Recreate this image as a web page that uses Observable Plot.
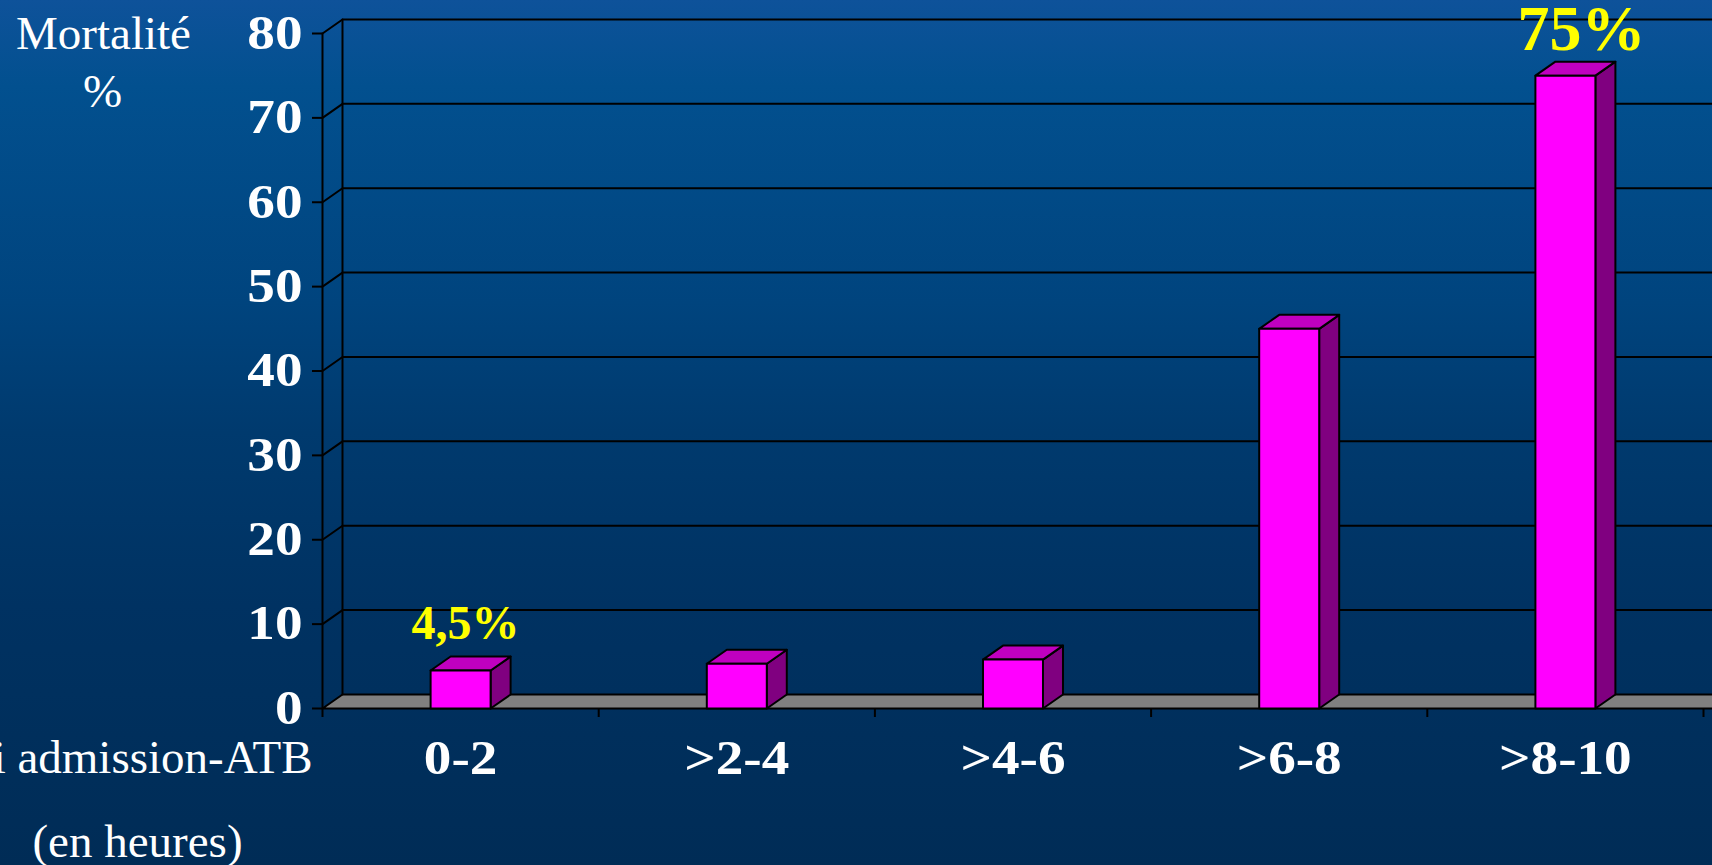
<!DOCTYPE html>
<html>
<head>
<meta charset="utf-8">
<script src="https://cdn.jsdelivr.net/npm/d3@7"></script>
<script src="https://cdn.jsdelivr.net/npm/@observablehq/plot@0.6"></script>
<style>
  html, body { margin: 0; padding: 0; overflow: hidden; }
  body {
    width: 1712px; height: 865px;
    background: linear-gradient(to bottom, #0e529a 0%, #02508f 10%, #00447e 35%, #003a6e 50%, #003262 70%, #002c56 100%);
  }
  #chart svg { display: block; }
</style>
</head>
<body>
<div id="chart"></div>
<script>
// ---- data ----
const categories = ["0-2", ">2-4", ">4-6", ">6-8", ">8-10"];
const mortality = [4.5, 5.3, 5.8, 45, 75];
const yTicks = [0, 10, 20, 30, 40, 50, 60, 70, 80];
const yTitle = ["Mortalité", "%"];
const xTitle = ["Délai admission-ATB", "(en heures)"];
const labelText = ["4,5%", "75%"];
const labelIndex = [0, 4];

// ---- 3D depth (styling constants, in scale units) ----
const DX = 0.0724;   // depth toward the right
const DY = 1.66;     // depth upward
const HW = 0.1086;   // half bar width

const n = categories.length;

// bar faces
const frontFaces = [], topFaces = [], sideFaces = [];
mortality.forEach((v, i) => {
  const xl = i + 0.5 - HW, xr = i + 0.5 + HW;
  frontFaces.push({b: i, x: xl, y: 0}, {b: i, x: xr, y: 0}, {b: i, x: xr, y: v}, {b: i, x: xl, y: v});
  topFaces.push({b: i, x: xl, y: v}, {b: i, x: xr, y: v}, {b: i, x: xr + DX, y: v + DY}, {b: i, x: xl + DX, y: v + DY});
  sideFaces.push({b: i, x: xr, y: 0}, {b: i, x: xr + DX, y: DY}, {b: i, x: xr + DX, y: v + DY}, {b: i, x: xr, y: v});
});

// gridlines: side wall diagonal + back wall horizontal
const grid = [];
yTicks.filter(t => t > 0).forEach(t => {
  grid.push({t, x: 0, y: t}, {t, x: DX, y: t + DY}, {t, x: n + DX + 0.2, y: t + DY});
});
const floorPoly = [
  {x: 0, y: 0}, {x: n + 0.2, y: 0}, {x: n + 0.2 + DX, y: DY}, {x: DX, y: DY}
];
const walls = [
  {w: 0, x: 0, y: 0}, {w: 0, x: 0, y: 80},
  {w: 1, x: DX, y: DY}, {w: 1, x: DX, y: 80 + DY}
];

const serif = "'Liberation Serif', 'Times New Roman', serif";

const chart = Plot.plot({
  width: 1712,
  height: 865,
  marginLeft: 322,
  marginRight: 9,
  marginTop: 33,
  marginBottom: 157,
  x: {domain: [0, n]},
  y: {domain: [0, 80]},
  style: {background: "transparent", fontFamily: serif, color: "white"},
  marks: [
    Plot.line(grid, {x: "x", y: "y", z: "t", stroke: "black", strokeWidth: 2}),
    Plot.line(floorPoly, {x: "x", y: "y", curve: "linear-closed", fill: "#808080", stroke: "black", strokeWidth: 2}),
    Plot.line(walls, {x: "x", y: "y", z: "w", stroke: "black", strokeWidth: 2}),
    Plot.axisX({ticks: d3.range(n + 1), tickSize: 9, tickFormat: () => "", stroke: "black", strokeWidth: 2, label: null}),
    Plot.axisY({ticks: yTicks, tickSize: 10, tickFormat: () => "", stroke: "black", strokeWidth: 2, label: null}),
    // y tick labels
    Plot.text(yTicks, {x: 0, y: d => d, text: d => String(d), dx: -20, textAnchor: "end", className: "ylab",
      fill: "white", fontSize: 48, fontWeight: "bold", fontFamily: serif}),
    Plot.line(sideFaces, {x: "x", y: "y", z: "b", curve: "linear-closed", fill: "#800080", stroke: "black", strokeWidth: 2}),
    Plot.line(topFaces, {x: "x", y: "y", z: "b", curve: "linear-closed", fill: "#c000c0", stroke: "black", strokeWidth: 2}),
    Plot.line(frontFaces, {x: "x", y: "y", z: "b", curve: "linear-closed", fill: "#ff00ff", stroke: "black", strokeWidth: 2}),
    // category labels
    Plot.text(categories, {x: (d, i) => i + 0.5, y: 0, text: d => d, dy: 65, lineAnchor: "bottom", className: "xlab",
      fill: "white", fontSize: 48, fontWeight: "bold", fontFamily: serif}),
    // value labels
    Plot.text([labelText[0]], {x: labelIndex[0] + 0.5, y: mortality[labelIndex[0]], text: d => d, dx: 5, dy: -32,
      lineAnchor: "bottom", fill: "#ffff00", fontSize: 48, fontWeight: "bold", fontFamily: serif}),
    Plot.text([labelText[1]], {x: labelIndex[1] + 0.5, y: mortality[labelIndex[1]], text: d => d, dx: 16, dy: -26,
      lineAnchor: "bottom", fill: "#ffff00", fontSize: 64, fontWeight: "bold", fontFamily: serif}),
    // axis titles
    Plot.text([yTitle[0]], {frameAnchor: "top-left", text: d => d, dx: -219, dy: 15, lineAnchor: "bottom",
      textAnchor: "middle", fill: "white", fontSize: 47, fontFamily: serif}),
    Plot.text([yTitle[1]], {frameAnchor: "top-left", text: d => d, dx: -220, dy: 73, lineAnchor: "bottom",
      textAnchor: "middle", fill: "white", fontSize: 47, fontFamily: serif}),
    Plot.text([xTitle[0]], {frameAnchor: "top-left", text: d => d, dx: -10, dy: 739, lineAnchor: "bottom",
      textAnchor: "end", fill: "white", fontSize: 47, fontFamily: serif}),
    Plot.text([xTitle[1]], {frameAnchor: "top-left", text: d => d, dx: -185, dy: 823, lineAnchor: "bottom",
      textAnchor: "middle", fill: "white", fontSize: 47, fontFamily: serif})
  ]
});
// widen the bold tick labels horizontally (about their anchor) like the original slide font
d3.select(chart).selectAll("g.ylab text, g.xlab text").each(function () {
  const t = this.getAttribute("transform") || "";
  this.setAttribute("transform", t + " scale(1.15,1)");
});
document.getElementById("chart").appendChild(chart);
</script>
</body>
</html>
